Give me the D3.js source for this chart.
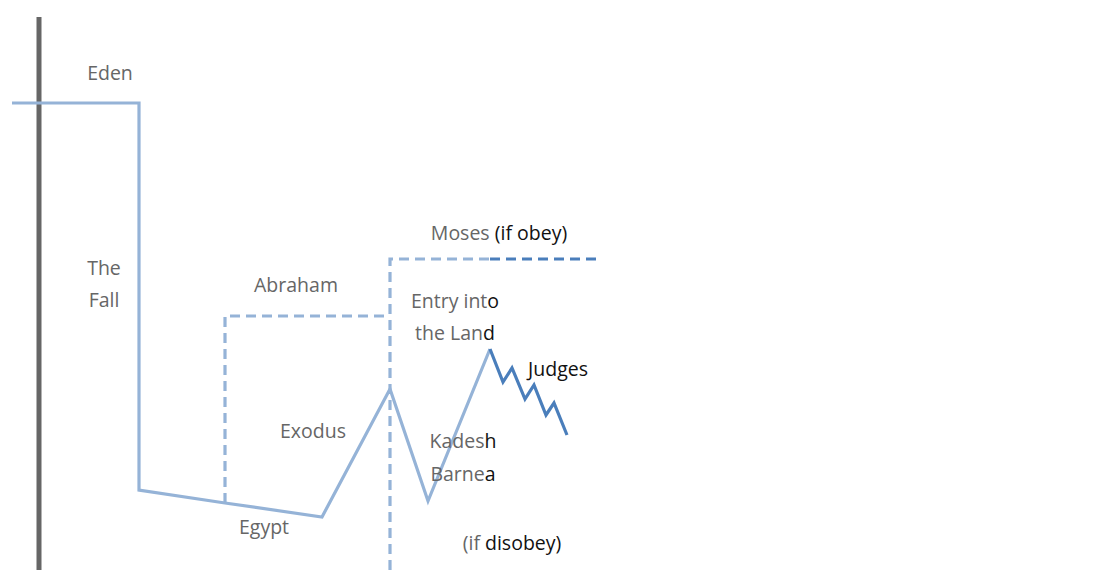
<!DOCTYPE html>
<html>
<head>
<meta charset="utf-8">
<script src="https://cdn.jsdelivr.net/npm/d3@7"></script>
<style>
  body { margin: 0; background: #fff; }
  svg text { font-family: "Open Sans", "Noto Sans", sans-serif; font-size: 19.5px; fill: #666; }
</style>
</head>
<body>
<div id="chart"></div>
<script>
// ===============================
// Data (x = time position, y = spiritual level)
// ===============================
const mainPath = [
  { x: 12, y: 467 }, { x: 139, y: 467 }, { x: 139, y: 80 }, { x: 225, y: 67 },
  { x: 322, y: 53 }, { x: 390, y: 181 }, { x: 428, y: 69 }, { x: 490, y: 221 }
];
const judgesPath = [
  { x: 490, y: 221 }, { x: 503, y: 188 }, { x: 512, y: 202 }, { x: 525, y: 171 },
  { x: 534, y: 185 }, { x: 546, y: 155 }, { x: 554, y: 167 }, { x: 567, y: 135 }
];
const abrahamPath = [{ x: 225, y: 67 }, { x: 225, y: 254 }, { x: 390, y: 254 }];
const mosesPath = [{ x: 390, y: 0 }, { x: 390, y: 311 }, { x: 490, y: 311 }];
const mosesObeyPath = [{ x: 490, y: 311 }, { x: 596, y: 311 }];
const axisLine = [{ x: 39, y: 0 }, { x: 39, y: 553 }];

// labels: parts as [text, dark?]
const labels = [
  { x: 110, y: 75, parts: [["Eden", false]] },
  { x: 104, y: 270, parts: [["The", false]] },
  { x: 104, y: 302, parts: [["Fall", false]] },
  { x: 296, y: 287, parts: [["Abraham", false]] },
  { x: 313, y: 433, parts: [["Exodus", false]] },
  { x: 264, y: 529, parts: [["Egypt", false]] },
  { x: 499, y: 235, parts: [["Moses ", false], ["(if obey)", true]] },
  { x: 455, y: 303, parts: [["Entry int", false], ["o", true]] },
  { x: 455, y: 335, parts: [["the Lan", false], ["d", true]] },
  { x: 558, y: 371, parts: [["Judges", true]] },
  { x: 463, y: 443, parts: [["Kades", false], ["h", true]] },
  { x: 463, y: 476, parts: [["Barne", false], ["a", true]] },
  { x: 512, y: 545, parts: [["(if ", false], ["disobey)", true]] }
];

// ===============================
// Setup
// ===============================
const width = 1117, height = 570;
const xScale = d3.scaleLinear().domain([0, width]).range([0, width]);
const yScale = d3.scaleLinear().domain([0, height]).range([height, 0]);

const svg = d3.select("#chart").append("svg")
  .attr("width", width).attr("height", height);

const line = d3.line().x(d => xScale(d.x)).y(d => yScale(d.y));

const light = "#95b3d7";
const dark = "#4a7ebb";

// axis bar
svg.append("path").attr("d", line(axisLine))
  .attr("stroke", "#666").attr("stroke-width", 5).attr("fill", "none");

svg.append("path").attr("d", line(abrahamPath))
  .attr("stroke", light).attr("stroke-width", 3.2).attr("fill", "none")
  .attr("stroke-dasharray", "10,6");

svg.append("path").attr("d", line(mosesPath))
  .attr("stroke", light).attr("stroke-width", 3.2).attr("fill", "none")
  .attr("stroke-dasharray", "10,6");

svg.append("path").attr("d", line(mosesObeyPath))
  .attr("stroke", dark).attr("stroke-width", 3.2).attr("fill", "none")
  .attr("stroke-dasharray", "10,6");

svg.append("path").attr("d", line(mainPath))
  .attr("stroke", light).attr("stroke-width", 3.2).attr("fill", "none")
  .attr("stroke-linejoin", "miter");

svg.append("path").attr("d", line(judgesPath))
  .attr("stroke", dark).attr("stroke-width", 3.2).attr("fill", "none");

// labels
const txt = svg.selectAll(".lbl").data(labels).enter().append("text")
  .attr("class", "lbl")
  .attr("x", d => d.x).attr("y", d => d.y)
  .attr("text-anchor", "middle")
  .attr("dominant-baseline", "middle");

txt.selectAll("tspan").data(d => d.parts).enter().append("tspan")
  .style("fill", p => p[1] ? "#111" : "#666")
  .text(p => p[0]);
</script>
</body>
</html>
